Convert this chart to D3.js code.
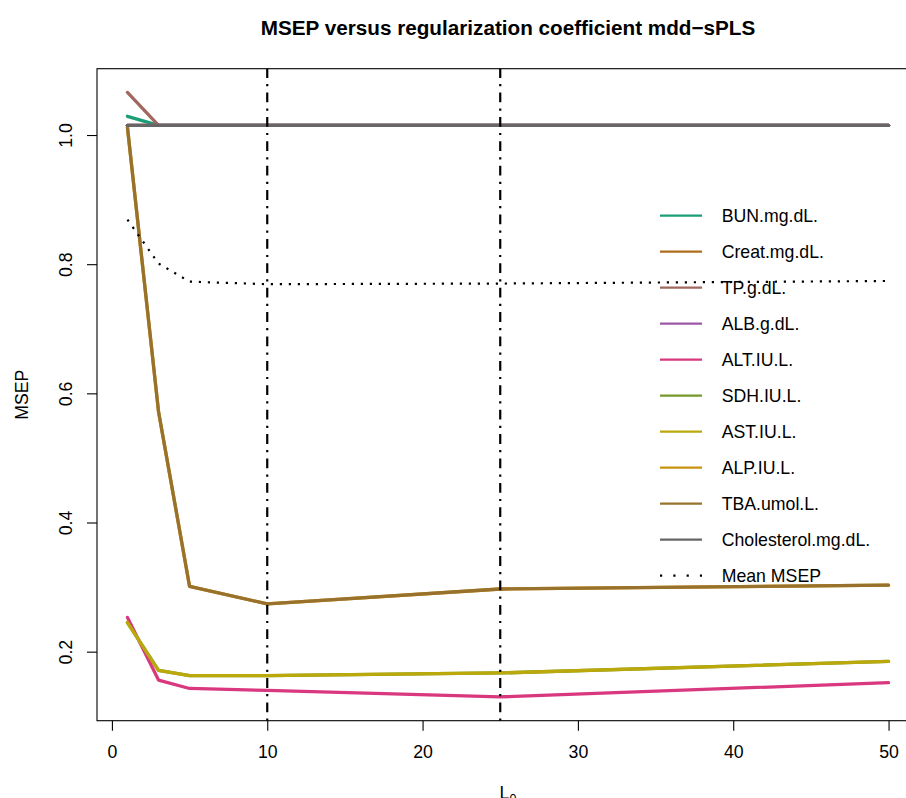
<!DOCTYPE html>
<html>
<head>
<meta charset="utf-8">
<script src="https://cdn.jsdelivr.net/npm/d3@7"></script>
<style>
  html, body { margin: 0; padding: 0; background: #ffffff; }
  svg { display: block; font-family: "Liberation Sans", Arial, sans-serif; }
</style>
</head>
<body>
<svg id="chart" width="906" height="798"></svg>
<script>
// ---- data ----
const lambdas = [1, 3, 5, 10, 25, 50];
const seriesNames = ["BUN.mg.dL.", "Creat.mg.dL.", "TP.g.dL.", "ALB.g.dL.", "ALT.IU.L.",
                     "SDH.IU.L.", "AST.IU.L.", "ALP.IU.L.", "TBA.umol.L.", "Cholesterol.mg.dL."];
const seriesColors = ["#1B9E77", "#AF6D1C", "#A1685F", "#9B58A5", "#D9377E",
                      "#74982A", "#BBA90B", "#CA930E", "#98722D", "#666666"];
const BUN         = [1.029, 1.015, 1.015, 1.015, 1.015, 1.015];
const Creat       = [1.015, 1.015, 1.015, 1.015, 1.015, 1.015];
const TP          = [1.066, 1.015, 1.015, 1.015, 1.015, 1.015];
const ALB         = [1.015, 1.015, 1.015, 1.015, 1.015, 1.015];
const ALT         = [0.253, 0.156, 0.143, 0.140, 0.130, 0.152];
const SDH         = [0.245, 0.171, 0.163, 0.163, 0.167, 0.185];
const AST         = [0.245, 0.171, 0.163, 0.163, 0.167, 0.185];
const ALP         = [1.012, 0.572, 0.301, 0.274, 0.297, 0.303];
const TBA         = [1.012, 0.572, 0.301, 0.274, 0.297, 0.303];
const Cholesterol = [1.015, 1.015, 1.015, 1.015, 1.015, 1.015];
const meanMSEP    = [0.869, 0.801, 0.773, 0.769, 0.770, 0.774];
const selectedLambdas = [10, 25];
const xTicks = [0, 10, 20, 30, 40, 50];
const yTicks = [0.2, 0.4, 0.6, 0.8, 1.0];
const titleText = "MSEP versus regularization coefficient mdd\u2212sPLS";

const seriesValues = [BUN, Creat, TP, ALB, ALT, SDH, AST, ALP, TBA, Cholesterol];

// ---- layout ----
const FS = 17.7;
const box = { left: 97, right: 919, top: 68.7, bottom: 720.7 };
const svg = d3.select("#chart");
svg.append("rect").attr("width", 906).attr("height", 798).attr("fill", "#fff");

const x = d3.scaleLinear().domain([-0.96, 51.96]).range([box.left, box.right]);
const y = d3.scaleLinear().domain([0.0931, 1.1027]).range([box.bottom, box.top]);

const line = d3.line().x(d => x(d[0])).y(d => y(d[1]));

// series
const gLines = svg.append("g");
seriesValues.forEach((vals, i) => {
  gLines.append("path")
    .datum(lambdas.map((l, j) => [l, vals[j]]))
    .attr("d", line)
    .attr("fill", "none")
    .attr("stroke", seriesColors[i])
    .attr("stroke-width", 3.3)
    .attr("stroke-linejoin", "round")
    .attr("stroke-linecap", "round");
});

// mean MSEP dotted
svg.append("path")
  .datum(lambdas.map((l, j) => [l, meanMSEP[j]]))
  .attr("d", line)
  .attr("fill", "none")
  .attr("stroke", "#000")
  .attr("stroke-width", 2.2)
  .attr("stroke-dasharray", "2.2,6.8");

// vertical dot-dash lines (drawn bottom to top)
selectedLambdas.forEach(l => {
  svg.append("path")
    .attr("d", `M${x(l)},${box.bottom}L${x(l)},${box.top}`)
    .attr("stroke", "#000")
    .attr("stroke-width", 2.2)
    .attr("fill", "none")
    .attr("stroke-dasharray", "2.2,6.2,9.8,6.2");
});

// box
svg.append("rect")
  .attr("x", box.left).attr("y", box.top)
  .attr("width", box.right - box.left).attr("height", box.bottom - box.top)
  .attr("fill", "none").attr("stroke", "#000").attr("stroke-width", 1.1);

// x axis
const xAxis = svg.append("g")
  .attr("transform", `translate(0,${box.bottom})`)
  .call(d3.axisBottom(x).tickValues(xTicks).tickFormat(d3.format("d")).tickSize(10).tickSizeOuter(0));
xAxis.select(".domain").remove();
xAxis.selectAll("line").attr("stroke", "#000").attr("stroke-width", 1.1);
xAxis.selectAll("text")
  .attr("y", 37.3).attr("dy", null)
  .attr("font-size", FS).attr("font-family", "Liberation Sans, Arial, sans-serif").attr("fill", "#000");

// y axis
const yAxis = svg.append("g")
  .attr("transform", `translate(${box.left},0)`)
  .call(d3.axisLeft(y).tickValues(yTicks).tickFormat(d3.format(".1f")).tickSize(10).tickSizeOuter(0));
yAxis.select(".domain").remove();
yAxis.selectAll("line").attr("stroke", "#000").attr("stroke-width", 1.1);
yAxis.selectAll("text")
  .attr("x", null).attr("y", null).attr("dy", null)
  .attr("text-anchor", "middle")
  .attr("transform", "translate(-25,0) rotate(-90)")
  .attr("font-size", FS).attr("font-family", "Liberation Sans, Arial, sans-serif").attr("fill", "#000");

// title
const cx = (box.left + box.right) / 2;
svg.append("text")
  .attr("x", cx).attr("y", 34.5)
  .attr("text-anchor", "middle")
  .attr("font-weight", "bold").attr("font-size", 20.7)
  .text(titleText);

// axis labels
const xl = svg.append("text")
  .attr("x", cx).attr("y", 798.5)
  .attr("text-anchor", "middle").attr("font-size", FS);
xl.append("tspan").text("L");
xl.append("tspan").attr("font-size", 12.5).attr("dy", 4).text("0");

svg.append("text")
  .attr("transform", `translate(28.3,${(box.top + box.bottom) / 2}) rotate(-90)`)
  .attr("text-anchor", "middle").attr("font-size", FS)
  .text("MSEP");

// legend
const legend = svg.append("g");
const legY0 = 215.7, legStep = 36;
const legendItems = seriesNames.map((n, i) => ({ name: n, color: seriesColors[i], dash: null }))
  .concat([{ name: "Mean MSEP", color: "#000", dash: "2.2,11.1" }]);
legendItems.forEach((it, i) => {
  const yy = legY0 + i * legStep;
  legend.append("line")
    .attr("x1", 660).attr("x2", 702).attr("y1", yy).attr("y2", yy)
    .attr("stroke", it.color).attr("stroke-width", 2.2)
    .attr("stroke-dasharray", it.dash);
  legend.append("text")
    .attr("x", 721.7).attr("y", yy + 6.5)
    .attr("font-size", FS).attr("fill", "#000")
    .text(it.name);
});
</script>
</body>
</html>
